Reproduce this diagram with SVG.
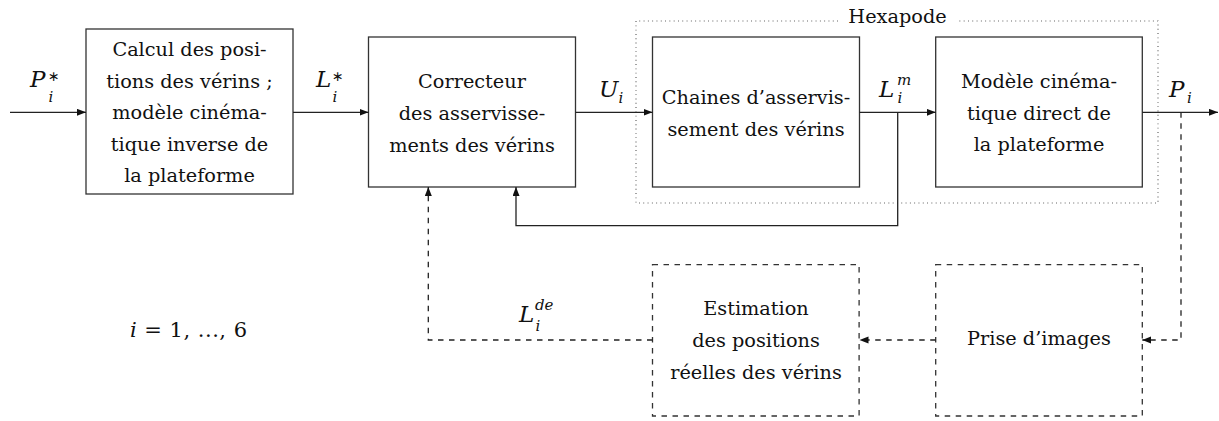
<svg xmlns="http://www.w3.org/2000/svg" width="1219" height="421" viewBox="0 0 1219 421">
<style>
.box{fill:#fff;stroke:#333;stroke-width:1.3}
.dbox{fill:none;stroke:#333;stroke-width:1.3;stroke-dasharray:5.5 5.5}
.t{font-family:"DejaVu Serif",serif;font-size:19.3px;fill:#111;text-anchor:middle}
.m{font-family:"DejaVu Serif",serif;font-size:23px;font-style:italic;fill:#111}
.s{font-family:"DejaVu Serif",serif;font-size:15px;font-style:italic;fill:#111}
.st{font-family:"DejaVu Sans",sans-serif;font-size:14px;fill:#111}
.ln{fill:none;stroke:#222;stroke-width:1.3}
.dl{fill:none;stroke:#222;stroke-width:1.3;stroke-dasharray:5.5 5.5}
.dot{fill:none;stroke:#555;stroke-width:1.1;stroke-dasharray:0.9 3.4}
</style>
<defs>
<marker id="ah" markerWidth="10" markerHeight="8" refX="9" refY="3.5" orient="auto" markerUnits="userSpaceOnUse">
<path d="M0,0 L9,3.5 L0,7 z" fill="#111" stroke="none"/>
</marker>
</defs>

<g id="hexapode">
<path class="dot" d="M838,21 L636,21 L636,203 L1158,203 L1158,21 L958,21"/>
<text class="t" x="897.5" y="23">Hexapode</text>
</g>

<g id="calcul">
<rect class="box" x="86" y="29" width="207" height="165"/>
<text class="t" x="189.5" y="56">Calcul des posi-</text>
<text class="t" x="189.5" y="87.6">tions des vérins ;</text>
<text class="t" x="189.5" y="119.2">modèle cinéma-</text>
<text class="t" x="189.5" y="150.8">tique inverse de</text>
<text class="t" x="189.5" y="182.4">la plateforme</text>
</g>

<g id="correcteur">
<rect class="box" x="368.5" y="37" width="207" height="150"/>
<text class="t" x="472" y="88">Correcteur</text>
<text class="t" x="472" y="120">des asservisse-</text>
<text class="t" x="472" y="151.5">ments des vérins</text>
</g>

<g id="chaines">
<rect class="box" x="652.5" y="37" width="207" height="150"/>
<text class="t" x="756" y="104">Chaines d’asservis-</text>
<text class="t" x="756" y="135.5">sement des vérins</text>
</g>

<g id="modele">
<rect class="box" x="935.7" y="37" width="206.6" height="150"/>
<text class="t" x="1039" y="88">Modèle cinéma-</text>
<text class="t" x="1039" y="119.5">tique direct de</text>
<text class="t" x="1039" y="151">la plateforme</text>
</g>

<g id="estimation">
<rect class="dbox" x="652.5" y="264.7" width="206.6" height="151.3"/>
<text class="t" x="756" y="315">Estimation</text>
<text class="t" x="756" y="347">des positions</text>
<text class="t" x="756" y="379">réelles des vérins</text>
</g>

<g id="prise">
<rect class="dbox" x="935.7" y="264.7" width="206.6" height="151.3"/>
<text class="t" x="1039" y="345">Prise d’images</text>
</g>

<g id="connectors">
<path class="ln" d="M10,112.3 L86,112.3" marker-end="url(#ah)"/>
<path class="ln" d="M293,112.3 L368.5,112.3" marker-end="url(#ah)"/>
<path class="ln" d="M575.5,112.3 L652.5,112.3" marker-end="url(#ah)"/>
<path class="ln" d="M859.5,112.3 L935.7,112.3" marker-end="url(#ah)"/>
<path class="ln" d="M1142.3,112.3 L1218,112.3" marker-end="url(#ah)"/>
<path class="ln" d="M897.7,112.3 L897.7,225.7 L516,225.7 L516,187" marker-end="url(#ah)"/>
<path class="dl" d="M1181,112.3 L1181,340 L1142.3,340" marker-end="url(#ah)"/>
<path class="dl" d="M935.7,340 L859.5,340" marker-end="url(#ah)"/>
<path class="dl" d="M652.5,340 L428.3,340 L428.3,187" marker-end="url(#ah)"/>
</g>

<g id="labels">
<text class="m" x="30" y="86.5">P</text><text class="st" x="48" y="81">∗</text><text class="s" x="48.5" y="101.5">i</text>
<text class="m" x="316" y="86.5">L</text><text class="st" x="332" y="81">∗</text><text class="s" x="332.5" y="101.5">i</text>
<text class="m" x="599" y="97">U</text><text class="s" x="618.5" y="103">i</text>
<text class="m" x="879" y="96.5">L</text><text class="s" x="897" y="85">m</text><text class="s" x="897.5" y="103">i</text>
<text class="m" x="1169" y="96.5">P</text><text class="s" x="1187" y="103">i</text>
<text class="m" x="519" y="321.5">L</text><text class="s" x="535" y="310">de</text><text class="s" x="535.5" y="331">i</text>
<text x="130" y="337" textLength="117" lengthAdjust="spacing" style="font-family:'DejaVu Serif',serif;font-size:21px;fill:#111"><tspan font-style="italic">i</tspan> = 1, ..., 6</text>
</g>
</svg>
